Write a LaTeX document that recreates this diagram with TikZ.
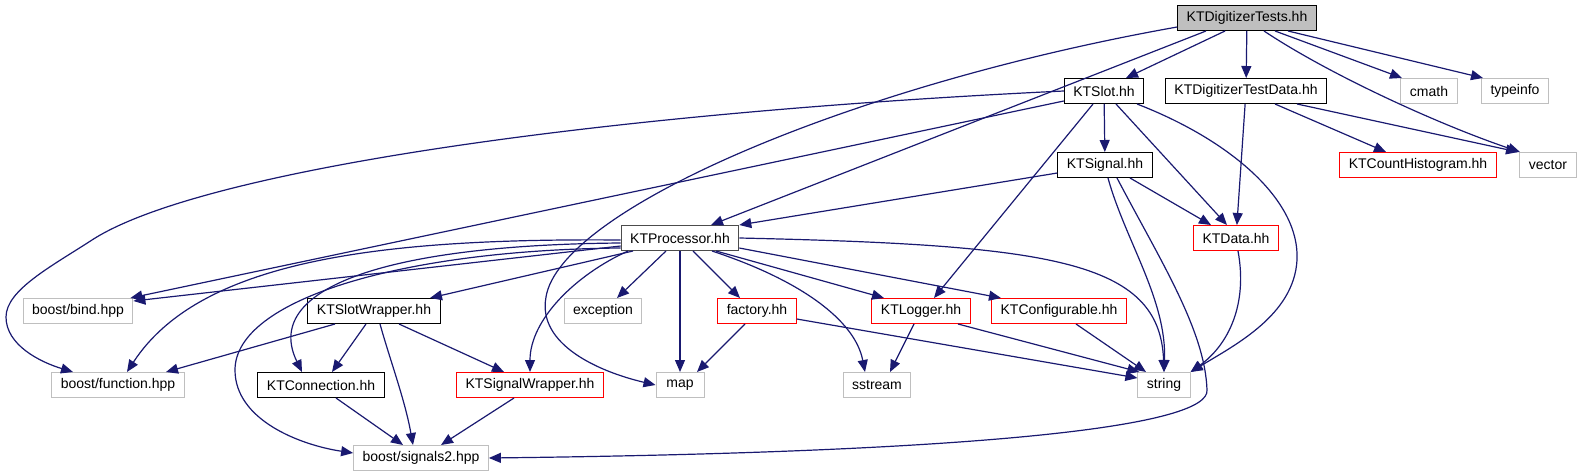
\documentclass[tikz,border=0pt]{standalone}
\usepackage{fontspec}
\setmainfont{Liberation Sans}
\usepackage{tikz}
\usetikzlibrary{arrows.meta}
\definecolor{edgeblue}{HTML}{191970}
\definecolor{boxgray}{HTML}{BFBFBF}

\begin{document}
\begin{tikzpicture}[x=1pt,y=-1pt,
  every node/.style={rectangle,minimum height=25pt,minimum width=48pt,inner xsep=9pt,inner ysep=0pt,
    line width=1pt,font=\fontsize{14}{16}\selectfont},
  root/.style={draw=black,fill=boxgray},
  hdr/.style={draw=black},
  trunc/.style={draw=red},
  sys/.style={draw=boxgray},
  dep/.style={draw=edgeblue,line width=1.2pt,-{Triangle[length=12pt,width=10pt]}}]
  \useasboundingbox (0,0) rectangle (1582,476);

  % files
  \node[root] (dt) at (1247,18) {KTDigitizerTests.hh};
  \node[hdr] (slot) at (1104,91) {KTSlot.hh};
  \node[hdr] (tdata) at (1246,91) {KTDigitizerTestData.hh};
  \node[sys] (cmath) at (1429,91) {cmath};
  \node[sys] (typeinfo) at (1515,91) {typeinfo};
  \node[hdr] (signal) at (1105,165) {KTSignal.hh};
  \node[trunc] (hist) at (1418,165) {KTCountHistogram.hh};
  \node[sys] (vector) at (1548,165) {vector};
  \node[trunc] (data) at (1236,238) {KTData.hh};
  \node[hdr,draw=black!70] (proc) at (680,238) {KTProcessor.hh};
  \node[sys] (bind) at (78,311) {boost/bind.hpp};
  \node[hdr] (slotw) at (374,311) {KTSlotWrapper.hh};
  \node[sys] (exception) at (603,311) {exception};
  \node[trunc] (factory) at (757,311) {factory.hh};
  \node[trunc] (logger) at (921,311) {KTLogger.hh};
  \node[trunc] (config) at (1059,311) {KTConfigurable.hh};
  \node[sys] (function) at (118,385) {boost/function.hpp};
  \node[hdr] (conn) at (321,385) {KTConnection.hh};
  \node[trunc] (sigw) at (530,385) {KTSignalWrapper.hh};
  \node[sys] (map) at (680,385) {map};
  \node[sys] (sstream) at (877,385) {sstream};
  \node[sys] (string) at (1164,385) {string};
  \node[sys] (sig2) at (421,458) {boost/signals2.hpp};

  % KTDigitizerTests.hh
  \draw[dep] ([xshift=-22pt]dt.south) -- ([xshift=22pt]slot.north);
  \draw[dep] (dt) -- (tdata);
  \draw[dep] ([xshift=28pt]dt.south) -- ([xshift=-27pt]cmath.north);
  \draw[dep] ([xshift=41pt]dt.south) -- ([xshift=-32pt]typeinfo.north);
  \draw[dep] ([xshift=17pt]dt.south) .. controls (1330,75) and (1440,125) .. ([xshift=-28pt]vector.north);
  \draw[dep] ([xshift=-41pt]dt.south) -- ([xshift=31pt]proc.north);
  \draw[dep] ([yshift=4pt]dt.south west) .. controls (850,85) and (560,210) .. (546,297)
    .. controls (537,345) and (600,372) .. (map.west);

  % KTSlot.hh
  \draw[dep] (slot.west) .. controls (600,113) and (200,170) .. (92,240)
    .. controls (52,266) and (6,290) .. (6,317) .. controls (6,345) and (40,362) .. ([xshift=-45pt]function.north);
  \draw[dep] ([yshift=-10pt]slot.west) -- ([xshift=-3pt]bind.north east);
  \draw[dep] (slot) -- (signal);
  \draw[dep] ([xshift=-11pt]slot.south) -- ([xshift=13pt]logger.north);
  \draw[dep] ([xshift=12pt]slot.south) -- ([xshift=-9pt]data.north);
  \draw[dep] ([xshift=33pt]slot.south) .. controls (1230,140) and (1300,200) .. (1297,260)
    .. controls (1294,315) and (1235,345) .. (string.north east);

  % KTDigitizerTestData.hh
  \draw[dep] (tdata) -- (data);
  \draw[dep] ([xshift=29pt]tdata.south) -- ([xshift=-32pt]hist.north);
  \draw[dep] ([xshift=51pt]tdata.south) -- ([xshift=-30pt]vector.north);

  % KTSignal.hh, KTData.hh
  \draw[dep] ([yshift=-8pt]signal.west) -- (proc.north east);
  \draw[dep] ([xshift=25pt]signal.south) -- ([xshift=-25pt]data.north);
  \draw[dep] ([xshift=3pt]signal.south) .. controls (1125,240) and (1167,300) .. (string.north);
  \draw[dep] ([xshift=12pt]signal.south) .. controls (1160,260) and (1205,330) .. (1207,390)
    .. controls (1210,425) and (1000,452) .. (sig2.east);
  \draw[dep] ([xshift=2pt]data.south) .. controls (1248,305) and (1228,345) .. (string.north east);

  % KTProcessor.hh
  \draw[dep] ([yshift=-8pt]proc.west) -- ([yshift=-3pt]bind.north east);
  \draw[dep] ([yshift=-2pt]proc.west) .. controls (380,238) and (200,260) .. ([xshift=9pt]function.north);
  \draw[dep] ([xshift=-47pt]proc.south) -- ([xshift=56pt]slotw.north);
  \draw[dep] ([yshift=-5pt]proc.west) .. controls (380,245) and (262,290) .. ([xshift=-19pt]conn.north);
  \draw[dep] ([yshift=-10pt]proc.west) .. controls (400,250) and (235,300) .. (235,370)
    .. controls (235,420) and (300,445) .. ([yshift=5pt]sig2.west);
  \draw[dep] ([xshift=-52pt]proc.south) .. controls (575,275) and (530,320) .. (sigw.north);
  \draw[dep] ([xshift=-14pt]proc.south) -- ([xshift=14pt]exception.north);
  \draw[dep] (proc) -- (map);
  \draw[dep] ([xshift=13pt]proc.south) -- ([xshift=-17pt]factory.north);
  \draw[dep] ([xshift=32pt]proc.south) .. controls (800,280) and (855,320) .. ([xshift=-12pt]sstream.north);
  \draw[dep] ([xshift=36pt]proc.south) -- ([xshift=-37pt]logger.north);
  \draw[dep] ([yshift=-10pt]proc.east) -- ([xshift=-58pt]config.north);
  \draw[dep] (proc.east) .. controls (1050,245) and (1160,260) .. (string.north);

  % KTSlotWrapper.hh and the rest
  \draw[dep] ([xshift=-39pt]slotw.south) -- ([xshift=48pt]function.north);
  \draw[dep] ([xshift=-8pt]slotw.south) -- ([xshift=11pt]conn.north);
  \draw[dep] ([xshift=6pt]slotw.south) .. controls (390,360) and (405,400) .. ([xshift=-8pt]sig2.north);
  \draw[dep] ([xshift=25pt]slotw.south) -- ([xshift=-26pt]sigw.north);
  \draw[dep] ([xshift=15pt]conn.south) -- ([xshift=-18pt]sig2.north);
  \draw[dep] ([xshift=-16pt]sigw.south) -- ([xshift=20pt]sig2.north);
  \draw[dep] ([xshift=-12pt]factory.south) -- ([xshift=17pt]map.north);
  \draw[dep] ([yshift=-8pt]factory.east) -- ([yshift=7pt]string.west);
  \draw[dep] ([xshift=-7pt]logger.south) -- ([xshift=13pt]sstream.north);
  \draw[dep] ([xshift=37pt]logger.south) -- ([xshift=2pt]string.north west);
  \draw[dep] ([xshift=17pt]config.south) -- ([xshift=-18pt]string.north);
\end{tikzpicture}
\end{document}
